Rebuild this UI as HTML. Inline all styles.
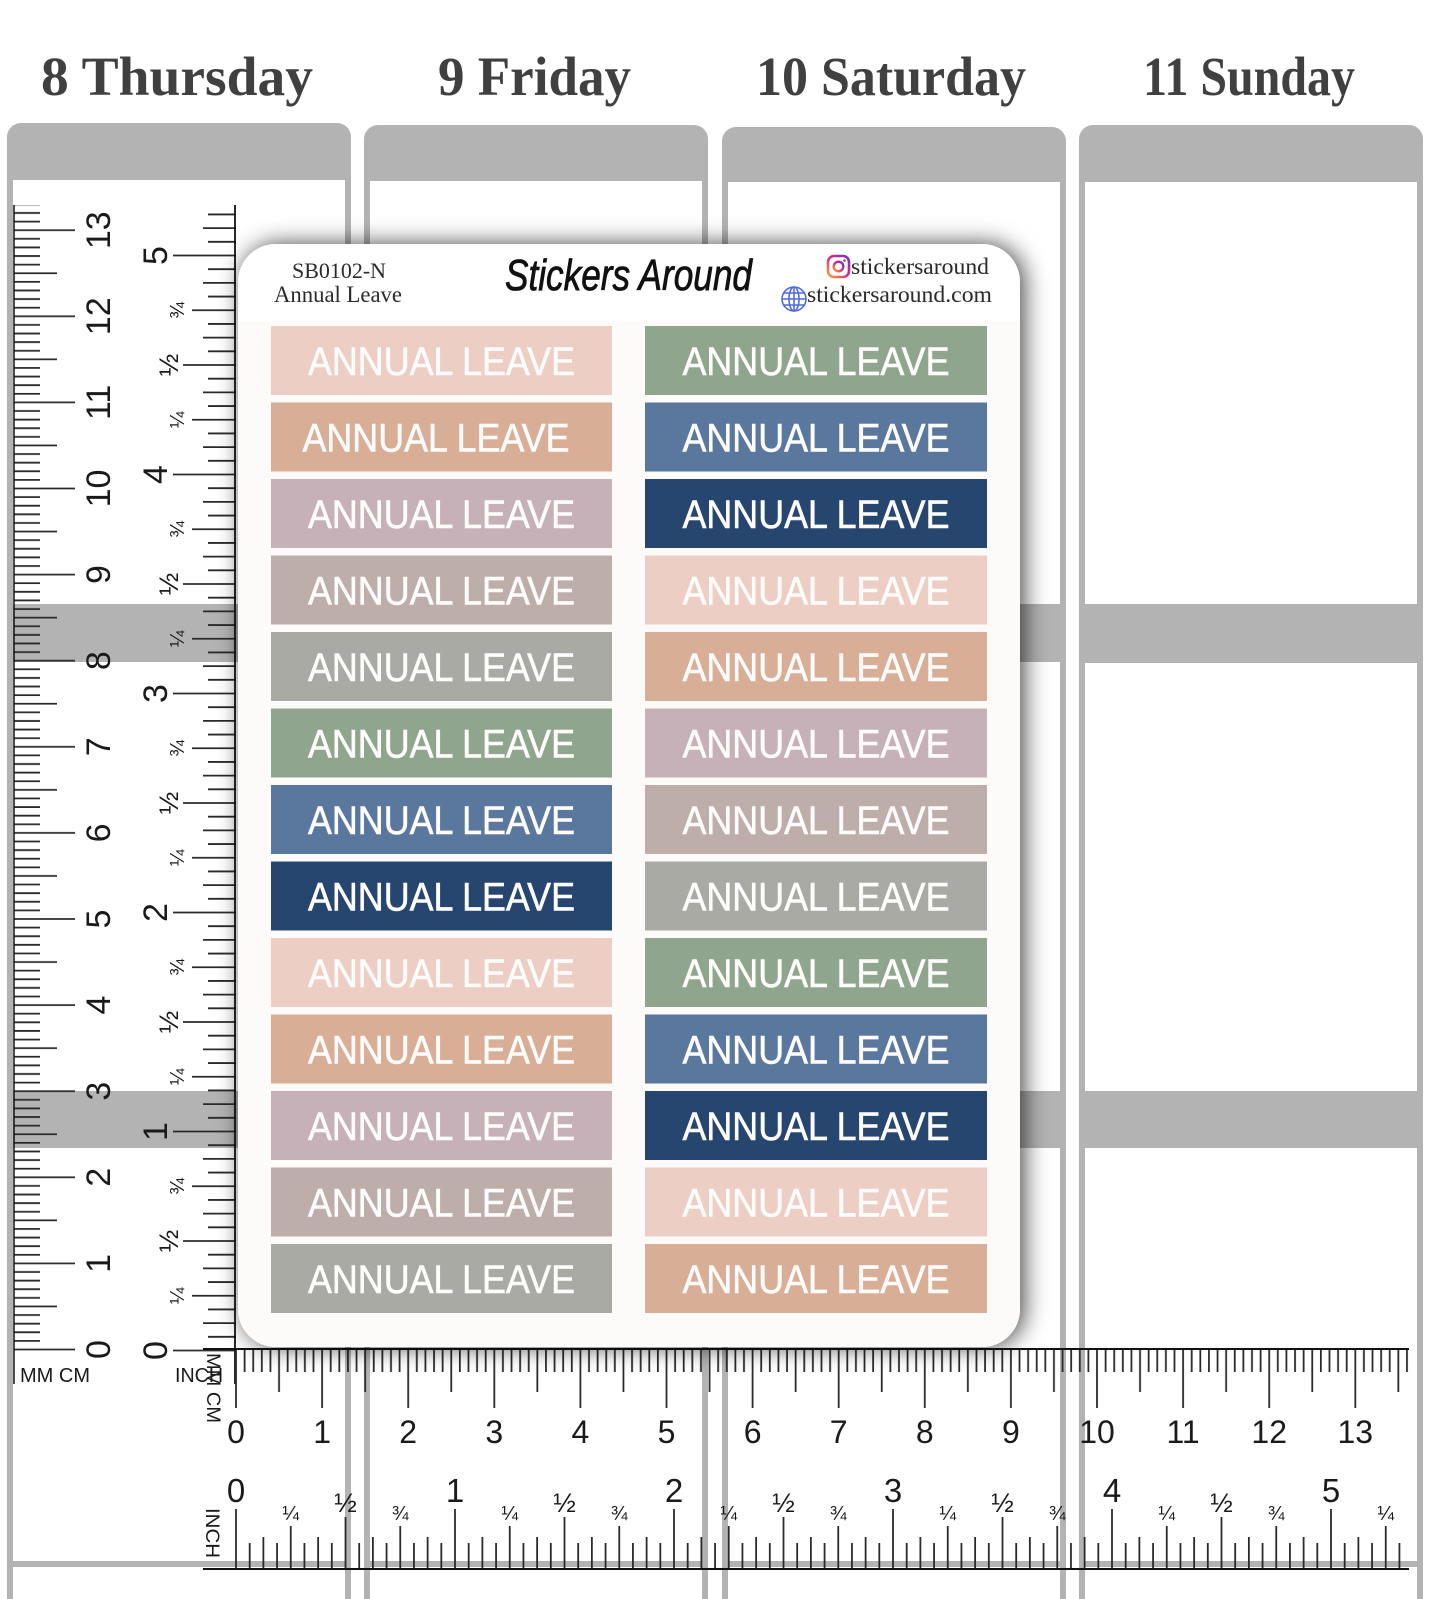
<!DOCTYPE html>
<html>
<head>
<meta charset="utf-8">
<style>
html,body{margin:0;padding:0;background:#fff;}
body{width:1445px;height:1599px;overflow:hidden;}
svg{display:block;}
</style>
</head>
<body>
<svg width="1445" height="1599" viewBox="0 0 1445 1599" xmlns="http://www.w3.org/2000/svg">
<defs>
  <filter id="sh" x="-10%" y="-10%" width="120%" height="120%">
    <feDropShadow dx="4" dy="0" stdDeviation="12" flood-color="#000" flood-opacity="0.72"/>
  </filter>
  <clipPath id="sc"><rect x="238" y="244" width="782" height="1103" rx="38"/></clipPath>
  <linearGradient id="ig" x1="0" y1="1" x2="1" y2="0">
    <stop offset="0" stop-color="#f9a13a"/>
    <stop offset="0.5" stop-color="#d6307a"/>
    <stop offset="1" stop-color="#7232bd"/>
  </linearGradient>
  <pattern id="pV" patternUnits="userSpaceOnUse" x="14" y="57" width="62" height="86.1">
    <g stroke="#2a2a2a" stroke-width="1.8">
      <line x1="0" y1="1" x2="61" y2="1"/>
      <line x1="0" y1="9.61" x2="26" y2="9.61"/>
      <line x1="0" y1="18.22" x2="26" y2="18.22"/>
      <line x1="0" y1="26.83" x2="26" y2="26.83"/>
      <line x1="0" y1="35.44" x2="26" y2="35.44"/>
      <line x1="0" y1="44.05" x2="43" y2="44.05"/>
      <line x1="0" y1="52.66" x2="26" y2="52.66"/>
      <line x1="0" y1="61.27" x2="26" y2="61.27"/>
      <line x1="0" y1="69.88" x2="26" y2="69.88"/>
      <line x1="0" y1="78.49" x2="26" y2="78.49"/>
    </g>
  </pattern>
  <pattern id="pVi" patternUnits="userSpaceOnUse" x="159" y="35.5" width="77" height="219">
    <g stroke="#2a2a2a" stroke-width="1.8">
      <line x1="14" y1="1" x2="77" y2="1"/>
      <line x1="49" y1="14.6875" x2="77" y2="14.6875"/>
      <line x1="44" y1="28.375" x2="77" y2="28.375"/>
      <line x1="49" y1="42.0625" x2="77" y2="42.0625"/>
      <line x1="33" y1="55.75" x2="77" y2="55.75"/>
      <line x1="49" y1="69.4375" x2="77" y2="69.4375"/>
      <line x1="44" y1="83.125" x2="77" y2="83.125"/>
      <line x1="49" y1="96.8125" x2="77" y2="96.8125"/>
      <line x1="24" y1="110.5" x2="77" y2="110.5"/>
      <line x1="49" y1="124.1875" x2="77" y2="124.1875"/>
      <line x1="44" y1="137.875" x2="77" y2="137.875"/>
      <line x1="49" y1="151.5625" x2="77" y2="151.5625"/>
      <line x1="33" y1="165.25" x2="77" y2="165.25"/>
      <line x1="49" y1="178.9375" x2="77" y2="178.9375"/>
      <line x1="44" y1="192.625" x2="77" y2="192.625"/>
      <line x1="49" y1="206.3125" x2="77" y2="206.3125"/>
    </g>
  </pattern>
  <pattern id="pH" patternUnits="userSpaceOnUse" x="62.8" y="1349" width="86.1" height="60">
    <g stroke="#2a2a2a" stroke-width="1.8">
      <line x1="1" y1="0" x2="1" y2="59"/>
      <line x1="9.61" y1="0" x2="9.61" y2="23"/>
      <line x1="18.22" y1="0" x2="18.22" y2="23"/>
      <line x1="26.83" y1="0" x2="26.83" y2="23"/>
      <line x1="35.44" y1="0" x2="35.44" y2="23"/>
      <line x1="44.05" y1="0" x2="44.05" y2="43"/>
      <line x1="52.66" y1="0" x2="52.66" y2="23"/>
      <line x1="61.27" y1="0" x2="61.27" y2="23"/>
      <line x1="69.88" y1="0" x2="69.88" y2="23"/>
      <line x1="78.49" y1="0" x2="78.49" y2="23"/>
    </g>
  </pattern>
  <pattern id="pHi" patternUnits="userSpaceOnUse" x="16" y="1508" width="219" height="61">
    <g stroke="#2a2a2a" stroke-width="1.8">
      <line x1="1" y1="1" x2="1" y2="61"/>
      <line x1="14.6875" y1="35" x2="14.6875" y2="61"/>
      <line x1="28.375" y1="29" x2="28.375" y2="61"/>
      <line x1="42.0625" y1="35" x2="42.0625" y2="61"/>
      <line x1="55.75" y1="18" x2="55.75" y2="61"/>
      <line x1="69.4375" y1="35" x2="69.4375" y2="61"/>
      <line x1="83.125" y1="29" x2="83.125" y2="61"/>
      <line x1="96.8125" y1="35" x2="96.8125" y2="61"/>
      <line x1="110.5" y1="9" x2="110.5" y2="61"/>
      <line x1="124.1875" y1="35" x2="124.1875" y2="61"/>
      <line x1="137.875" y1="29" x2="137.875" y2="61"/>
      <line x1="151.5625" y1="35" x2="151.5625" y2="61"/>
      <line x1="165.25" y1="18" x2="165.25" y2="61"/>
      <line x1="178.9375" y1="35" x2="178.9375" y2="61"/>
      <line x1="192.625" y1="29" x2="192.625" y2="61"/>
      <line x1="206.3125" y1="35" x2="206.3125" y2="61"/>
    </g>
  </pattern>
</defs>

<rect x="0" y="0" width="1445" height="1599" fill="#fff"/>

<g font-family="Liberation Serif, serif" font-weight="bold" font-size="55" fill="#404040">
  <text x="41" y="95" textLength="272" lengthAdjust="spacingAndGlyphs">8 Thursday</text>
  <text x="438" y="95" textLength="193" lengthAdjust="spacingAndGlyphs">9 Friday</text>
  <text x="756" y="95" textLength="270" lengthAdjust="spacingAndGlyphs">10 Saturday</text>
  <text x="1143" y="95" textLength="212" lengthAdjust="spacingAndGlyphs">11 Sunday</text>
</g>

<g fill="#b3b3b3">
  <rect x="7" y="123" width="344" height="1520" rx="14"/>
  <rect x="364" y="125" width="344" height="1520" rx="14"/>
  <rect x="722" y="127" width="344" height="1520" rx="14"/>
  <rect x="1079" y="125" width="344" height="1520" rx="14"/>
</g>
<g fill="#fff">
  <rect x="13" y="180" width="332" height="424"/>
  <rect x="13" y="662" width="332" height="429"/>
  <rect x="13" y="1148" width="332" height="413"/>
  <rect x="13" y="1567" width="332" height="40"/>

  <rect x="370" y="181" width="332" height="423"/>
  <rect x="370" y="662" width="332" height="429"/>
  <rect x="370" y="1148" width="332" height="413"/>
  <rect x="370" y="1567" width="332" height="40"/>

  <rect x="728" y="182" width="332" height="422"/>
  <rect x="728" y="662" width="332" height="429"/>
  <rect x="728" y="1148" width="332" height="413"/>
  <rect x="728" y="1567" width="332" height="40"/>

  <rect x="1085" y="182" width="332" height="422"/>
  <rect x="1085" y="663" width="332" height="428"/>
  <rect x="1085" y="1148" width="332" height="413"/>
  <rect x="1085" y="1567" width="332" height="40"/>
</g>

<g>
  <rect x="14" y="205" width="62" height="1146" fill="url(#pV)"/>
  <rect x="159" y="205" width="77" height="1147" fill="url(#pVi)"/>
  <line x1="14" y1="205" x2="14" y2="1384" stroke="#111" stroke-width="1.5"/>
  <line x1="235" y1="205" x2="235" y2="1384" stroke="#111" stroke-width="1.8"/>
  <g font-family="Liberation Sans, sans-serif" font-size="34" fill="#1a1a1a" text-anchor="middle">
    <text transform="translate(110,1349.5) rotate(-90)">0</text>
    <text transform="translate(110,1263.4) rotate(-90)">1</text>
    <text transform="translate(110,1177.3) rotate(-90)">2</text>
    <text transform="translate(110,1091.2) rotate(-90)">3</text>
    <text transform="translate(110,1005.1) rotate(-90)">4</text>
    <text transform="translate(110,919) rotate(-90)">5</text>
    <text transform="translate(110,832.9) rotate(-90)">6</text>
    <text transform="translate(110,746.8) rotate(-90)">7</text>
    <text transform="translate(110,660.7) rotate(-90)">8</text>
    <text transform="translate(110,574.6) rotate(-90)">9</text>
    <text transform="translate(110,488.5) rotate(-90)">10</text>
    <text transform="translate(110,402.4) rotate(-90)">11</text>
    <text transform="translate(110,316.3) rotate(-90)">12</text>
    <text transform="translate(110,230.2) rotate(-90)">13</text>

    <text transform="translate(167,1350.5) rotate(-90)">0</text>
    <text transform="translate(167,1131.5) rotate(-90)">1</text>
    <text transform="translate(167,912.5) rotate(-90)">2</text>
    <text transform="translate(167,693.5) rotate(-90)">3</text>
    <text transform="translate(167,474.5) rotate(-90)">4</text>
    <text transform="translate(167,255.5) rotate(-90)">5</text>
  </g>
  <g font-family="Liberation Sans, sans-serif" font-size="20" fill="#1a1a1a" text-anchor="middle">
    <text transform="translate(184,1295.75) rotate(-90)">¼</text>
    <text transform="translate(184,1186.25) rotate(-90)">¾</text>
    <text transform="translate(184,1076.75) rotate(-90)">¼</text>
    <text transform="translate(184,967.25) rotate(-90)">¾</text>
    <text transform="translate(184,857.75) rotate(-90)">¼</text>
    <text transform="translate(184,748.25) rotate(-90)">¾</text>
    <text transform="translate(184,638.75) rotate(-90)">¼</text>
    <text transform="translate(184,529.25) rotate(-90)">¾</text>
    <text transform="translate(184,419.75) rotate(-90)">¼</text>
    <text transform="translate(184,310.25) rotate(-90)">¾</text>
  </g>
  <g font-family="Liberation Sans, sans-serif" font-size="27" fill="#1a1a1a" text-anchor="middle">
    <text transform="translate(178,1241) rotate(-90)">½</text>
    <text transform="translate(178,1022) rotate(-90)">½</text>
    <text transform="translate(178,803) rotate(-90)">½</text>
    <text transform="translate(178,584) rotate(-90)">½</text>
    <text transform="translate(178,365) rotate(-90)">½</text>
  </g>
  <g font-family="Liberation Sans, sans-serif" font-size="20" fill="#1a1a1a">
    <text x="20" y="1382" textLength="70" lengthAdjust="spacingAndGlyphs">MM CM</text>
    <text x="175" y="1382" textLength="48" lengthAdjust="spacingAndGlyphs">INCH</text>
  </g>
</g>

<g>
  <rect x="235" y="1349" width="1174" height="60" fill="url(#pH)"/>
  <rect x="235" y="1508" width="1166" height="61" fill="url(#pHi)"/>
  <line x1="203" y1="1349" x2="1409" y2="1349" stroke="#111" stroke-width="2"/>
  <line x1="203" y1="1569" x2="1409" y2="1569" stroke="#111" stroke-width="2"/>
  <g font-family="Liberation Sans, sans-serif" font-size="32" fill="#1a1a1a" text-anchor="middle">
    <text x="236" y="1443">0</text>
    <text x="322.1" y="1443">1</text>
    <text x="408.2" y="1443">2</text>
    <text x="494.3" y="1443">3</text>
    <text x="580.4" y="1443">4</text>
    <text x="666.5" y="1443">5</text>
    <text x="752.6" y="1443">6</text>
    <text x="838.7" y="1443">7</text>
    <text x="924.8" y="1443">8</text>
    <text x="1010.9" y="1443">9</text>
    <text x="1097" y="1443">10</text>
    <text x="1183.1" y="1443">11</text>
    <text x="1269.2" y="1443">12</text>
    <text x="1355.3" y="1443">13</text>
  </g>
  <g font-family="Liberation Sans, sans-serif" font-size="33" fill="#1a1a1a" text-anchor="middle">
    <text x="236" y="1502">0</text>
    <text x="455" y="1502">1</text>
    <text x="674" y="1502">2</text>
    <text x="893" y="1502">3</text>
    <text x="1112" y="1502">4</text>
    <text x="1331" y="1502">5</text>
  </g>
  <g font-family="Liberation Sans, sans-serif" font-size="20" fill="#1a1a1a" text-anchor="middle">
    <text x="290.75" y="1520">¼</text>
    <text x="400.25" y="1520">¾</text>
    <text x="509.75" y="1520">¼</text>
    <text x="619.25" y="1520">¾</text>
    <text x="728.75" y="1520">¼</text>
    <text x="838.25" y="1520">¾</text>
    <text x="947.75" y="1520">¼</text>
    <text x="1057.25" y="1520">¾</text>
    <text x="1166.75" y="1520">¼</text>
    <text x="1276.25" y="1520">¾</text>
    <text x="1385.75" y="1520">¼</text>
  </g>
  <g font-family="Liberation Sans, sans-serif" font-size="27" fill="#1a1a1a" text-anchor="middle">
    <text x="345.5" y="1512">½</text>
    <text x="564.5" y="1512">½</text>
    <text x="783.5" y="1512">½</text>
    <text x="1002.5" y="1512">½</text>
    <text x="1221.5" y="1512">½</text>
  </g>
  <g font-family="Liberation Sans, sans-serif" font-size="19" fill="#1a1a1a">
    <text transform="translate(207,1353) rotate(90)" textLength="70" lengthAdjust="spacingAndGlyphs">MM CM</text>
    <text transform="translate(206,1508) rotate(90)" textLength="50" lengthAdjust="spacingAndGlyphs">INCH</text>
  </g>
</g>

<rect x="238" y="244" width="782" height="1103" rx="38" fill="#fff" filter="url(#sh)"/>
<g clip-path="url(#sc)">
  <rect x="238" y="321" width="782" height="1030" fill="#fdfbf9"/>
</g>

<g font-family="Liberation Serif, serif" fill="#2a2a2a">
  <text x="292" y="278" font-size="22" textLength="94" lengthAdjust="spacingAndGlyphs">SB0102-N</text>
  <text x="274" y="302" font-size="23" textLength="128" lengthAdjust="spacingAndGlyphs">Annual Leave</text>
  <text x="851" y="274" font-size="23" textLength="138" lengthAdjust="spacingAndGlyphs">stickersaround</text>
  <text x="807" y="302" font-size="23" textLength="185" lengthAdjust="spacingAndGlyphs">stickersaround.com</text>
</g>
<text x="505" y="290" font-family="Liberation Sans, sans-serif" font-style="italic" font-size="44" fill="#111" stroke="#111" stroke-width="0.8" textLength="247" lengthAdjust="spacingAndGlyphs">Stickers Around</text>
<rect x="828" y="256" width="21" height="21" rx="6" fill="none" stroke="url(#ig)" stroke-width="2.6"/>
<circle cx="838.5" cy="266.5" r="4.8" fill="none" stroke="url(#ig)" stroke-width="2.4"/>
<circle cx="844.5" cy="260.5" r="1.3" fill="#b03090"/>
<g fill="none" stroke="#4f6be0" stroke-width="1.6">
  <circle cx="794" cy="299" r="12"/>
  <ellipse cx="794" cy="299" rx="5" ry="12"/>
  <line x1="794" y1="287" x2="794" y2="311"/>
  <line x1="782" y1="299" x2="806" y2="299"/>
  <line x1="784" y1="293" x2="804" y2="293"/>
  <line x1="784" y1="305" x2="804" y2="305"/>
</g>

<g>
  <rect x="271" y="326" width="341" height="69" fill="#edcec4"/>
  <rect x="271" y="402.5" width="341" height="69" fill="#d9ae97"/>
  <rect x="271" y="479" width="341" height="69" fill="#c5b1b7"/>
  <rect x="271" y="555.5" width="341" height="69" fill="#bdaea9"/>
  <rect x="271" y="632" width="341" height="69" fill="#a8aaa3"/>
  <rect x="271" y="708.5" width="341" height="69" fill="#8fa58e"/>
  <rect x="271" y="785" width="341" height="69" fill="#5a779e"/>
  <rect x="271" y="861.5" width="341" height="69" fill="#26466f"/>
  <rect x="271" y="938" width="341" height="69" fill="#edcec4"/>
  <rect x="271" y="1014.5" width="341" height="69" fill="#d9ae97"/>
  <rect x="271" y="1091" width="341" height="69" fill="#c5b1b7"/>
  <rect x="271" y="1167.5" width="341" height="69" fill="#bdaea9"/>
  <rect x="271" y="1244" width="341" height="69" fill="#a8aaa3"/>

  <rect x="645" y="326" width="342" height="69" fill="#8fa58e"/>
  <rect x="645" y="402.5" width="342" height="69" fill="#5a779e"/>
  <rect x="645" y="479" width="342" height="69" fill="#26466f"/>
  <rect x="645" y="555.5" width="342" height="69" fill="#edcec4"/>
  <rect x="645" y="632" width="342" height="69" fill="#d9ae97"/>
  <rect x="645" y="708.5" width="342" height="69" fill="#c5b1b7"/>
  <rect x="645" y="785" width="342" height="69" fill="#bdaea9"/>
  <rect x="645" y="861.5" width="342" height="69" fill="#a8aaa3"/>
  <rect x="645" y="938" width="342" height="69" fill="#8fa58e"/>
  <rect x="645" y="1014.5" width="342" height="69" fill="#5a779e"/>
  <rect x="645" y="1091" width="342" height="69" fill="#26466f"/>
  <rect x="645" y="1167.5" width="342" height="69" fill="#edcec4"/>
  <rect x="645" y="1244" width="342" height="69" fill="#d9ae97"/>
</g>
<g font-family="Liberation Sans, sans-serif" font-size="40" fill="#fdfcfb" stroke="#fdfcfb" stroke-width="0.6" text-anchor="middle">
  <text x="441.5" y="375" textLength="267" lengthAdjust="spacingAndGlyphs">ANNUAL LEAVE</text>
  <text x="436" y="451.5" textLength="267" lengthAdjust="spacingAndGlyphs">ANNUAL LEAVE</text>
  <text x="441.5" y="528" textLength="267" lengthAdjust="spacingAndGlyphs">ANNUAL LEAVE</text>
  <text x="441.5" y="604.5" textLength="267" lengthAdjust="spacingAndGlyphs">ANNUAL LEAVE</text>
  <text x="441.5" y="681" textLength="267" lengthAdjust="spacingAndGlyphs">ANNUAL LEAVE</text>
  <text x="441.5" y="757.5" textLength="267" lengthAdjust="spacingAndGlyphs">ANNUAL LEAVE</text>
  <text x="441.5" y="834" textLength="267" lengthAdjust="spacingAndGlyphs">ANNUAL LEAVE</text>
  <text x="441.5" y="910.5" textLength="267" lengthAdjust="spacingAndGlyphs">ANNUAL LEAVE</text>
  <text x="441.5" y="987" textLength="267" lengthAdjust="spacingAndGlyphs">ANNUAL LEAVE</text>
  <text x="441.5" y="1063.5" textLength="267" lengthAdjust="spacingAndGlyphs">ANNUAL LEAVE</text>
  <text x="441.5" y="1140" textLength="267" lengthAdjust="spacingAndGlyphs">ANNUAL LEAVE</text>
  <text x="441.5" y="1216.5" textLength="267" lengthAdjust="spacingAndGlyphs">ANNUAL LEAVE</text>
  <text x="441.5" y="1293" textLength="267" lengthAdjust="spacingAndGlyphs">ANNUAL LEAVE</text>

  <text x="816" y="375" textLength="267" lengthAdjust="spacingAndGlyphs">ANNUAL LEAVE</text>
  <text x="816" y="451.5" textLength="267" lengthAdjust="spacingAndGlyphs">ANNUAL LEAVE</text>
  <text x="816" y="528" textLength="267" lengthAdjust="spacingAndGlyphs">ANNUAL LEAVE</text>
  <text x="816" y="604.5" textLength="267" lengthAdjust="spacingAndGlyphs">ANNUAL LEAVE</text>
  <text x="816" y="681" textLength="267" lengthAdjust="spacingAndGlyphs">ANNUAL LEAVE</text>
  <text x="816" y="757.5" textLength="267" lengthAdjust="spacingAndGlyphs">ANNUAL LEAVE</text>
  <text x="816" y="834" textLength="267" lengthAdjust="spacingAndGlyphs">ANNUAL LEAVE</text>
  <text x="816" y="910.5" textLength="267" lengthAdjust="spacingAndGlyphs">ANNUAL LEAVE</text>
  <text x="816" y="987" textLength="267" lengthAdjust="spacingAndGlyphs">ANNUAL LEAVE</text>
  <text x="816" y="1063.5" textLength="267" lengthAdjust="spacingAndGlyphs">ANNUAL LEAVE</text>
  <text x="816" y="1140" textLength="267" lengthAdjust="spacingAndGlyphs">ANNUAL LEAVE</text>
  <text x="816" y="1216.5" textLength="267" lengthAdjust="spacingAndGlyphs">ANNUAL LEAVE</text>
  <text x="816" y="1293" textLength="267" lengthAdjust="spacingAndGlyphs">ANNUAL LEAVE</text>
</g>
</svg>
</body>
</html>
